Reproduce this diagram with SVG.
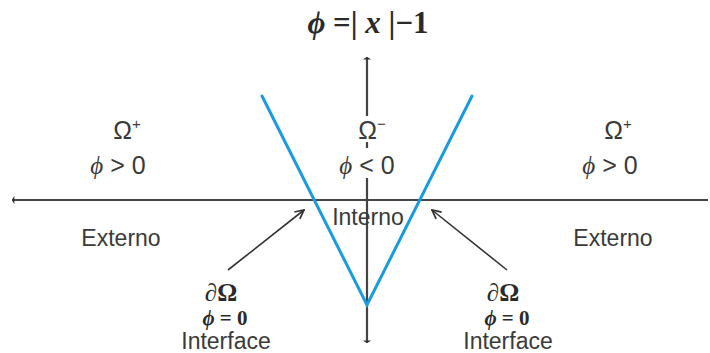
<svg xmlns="http://www.w3.org/2000/svg" width="710" height="353" viewBox="0 0 710 353">
<style>
.ax{stroke:#444;stroke-width:2.2;fill:none}
.v{stroke:#1a9be0;stroke-width:3;fill:none;stroke-linecap:round}
.ar{stroke:#333;stroke-width:1.6;fill:none}
.s{font-family:"Liberation Sans",Arial,sans-serif;font-size:23px;fill:#3a3a3a;text-anchor:middle}
.m{font-family:"Liberation Sans",Arial,sans-serif;font-size:25px;fill:#3a3a3a;text-anchor:middle}
.b{font-family:"Liberation Serif","Times New Roman",serif;fill:#2a2a2a;text-anchor:middle;font-weight:bold}
.t{font-size:31px}
.d{font-size:25px}
.z{font-size:21px}
.i{font-style:italic;font-family:"Liberation Serif","Times New Roman",serif}
</style>
<defs>
<marker id="open" viewBox="0 0 10 10" refX="9" refY="5" markerWidth="11" markerHeight="11" markerUnits="userSpaceOnUse" orient="auto">
<path d="M1,1 L9,5 L1,9" fill="none" stroke="#333" stroke-width="1.6"/>
</marker>
<marker id="axh" viewBox="0 0 10 10" refX="8" refY="5" markerWidth="8" markerHeight="8" markerUnits="userSpaceOnUse" orient="auto">
<path d="M5,0 Q10,5 5,10 Z" fill="#333"/>
</marker>
</defs>
<g id="connectors">
<line class="ax" x1="708" y1="200" x2="12" y2="200" marker-end="url(#axh)"/>
<line class="ax" x1="367" y1="200" x2="367" y2="57" marker-end="url(#axh)"/>
<line class="ax" x1="367" y1="200" x2="367" y2="343" marker-end="url(#axh)"/>
<polyline class="v" points="262,96 367,305 472,96"/>
<line class="ar" x1="228" y1="270" x2="304" y2="210" marker-end="url(#open)"/>
<line class="ar" x1="507" y1="270" x2="432" y2="210" marker-end="url(#open)"/>
</g>
<g id="title"><text class="b t" x="368" y="33"><tspan class="i">ϕ</tspan> =| <tspan class="i">x</tspan> |−1</text></g>
<g id="left-region">
<text class="m" x="127" y="139">Ω<tspan font-size="15" dy="-10">+</tspan></text>
<text class="m" x="118" y="174"><tspan class="i">ϕ</tspan> &gt; 0</text>
<text class="s" x="121" y="246">Externo</text>
</g>
<g id="center-region">
<rect x="355" y="116" width="26" height="26" fill="#fff"/>
<text class="m" x="372" y="139">Ω<tspan font-size="15" dy="-10">−</tspan></text>
<rect x="338" y="148" width="56" height="30" fill="#fff"/>
<text class="m" x="367" y="174"><tspan class="i">ϕ</tspan> &lt; 0</text>
<text class="s" x="368" y="225">Interno</text>
</g>
<g id="right-region">
<text class="m" x="618" y="139">Ω<tspan font-size="15" dy="-10">+</tspan></text>
<text class="m" x="610" y="174"><tspan class="i">ϕ</tspan> &gt; 0</text>
<text class="s" x="613" y="246">Externo</text>
</g>
<g id="left-interface">
<text class="b d" x="221" y="301">∂Ω</text>
<text class="b z" x="225" y="325"><tspan class="i">ϕ</tspan> = 0</text>
<text class="s" x="226" y="349">Interface</text>
</g>
<g id="right-interface">
<text class="b d" x="503" y="301">∂Ω</text>
<text class="b z" x="507" y="325"><tspan class="i">ϕ</tspan> = 0</text>
<text class="s" x="508" y="349">Interface</text>
</g>
</svg>
